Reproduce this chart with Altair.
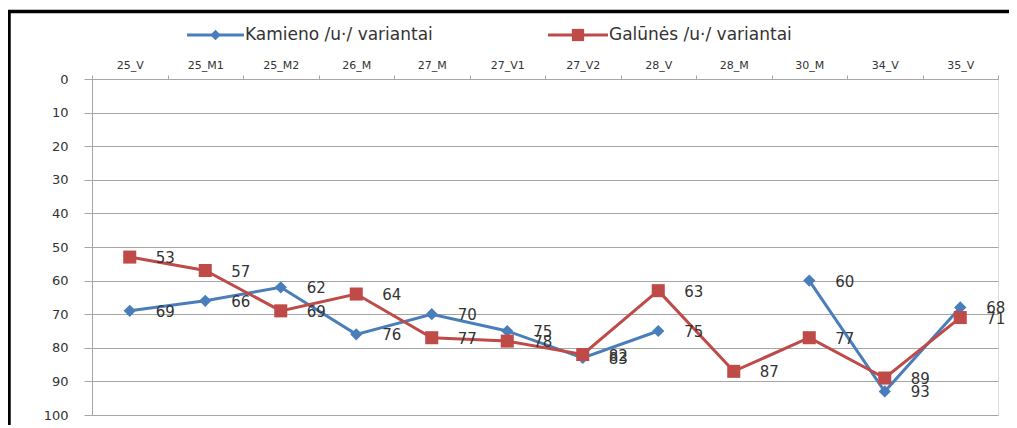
import altair as alt
import pandas as pd

categories = ["25_V", "25_M1", "25_M2", "26_M", "27_M", "27_V1", "27_V2",
              "28_V", "28_M", "30_M", "34_V", "35_V"]
series_names = ["Kamieno /u·/ variantai", "Galūnės /u·/ variantai"]
kamieno = [69, 66, 62, 76, 70, 75, 83, 75, None, 60, 93, 68]
galunes = [53, 57, 69, 64, 77, 78, 82, 63, 87, 77, 89, 71]
y_ticks = [0, 10, 20, 30, 40, 50, 60, 70, 80, 90, 100]

colors = ["#4A7EBB", "#BE4B48"]
shapes = ["diamond", "square"]
sizes = [150, 170]

rows = []
for name, vals in zip(series_names, [kamieno, galunes]):
    for c, v in zip(categories, vals):
        rows.append({"cat": c, "series": name, "value": v})
df = pd.DataFrame(rows)

FONT = "DejaVu Sans"
TEXT_COLOR = "#333333"
GRID = "#A6A6A6"

x_enc = alt.X(
    "cat:N",
    sort=categories,
    bandPosition=0.5,
    scale=alt.Scale(type="band", paddingInner=0, paddingOuter=0),
    axis=alt.Axis(
        orient="top", title=None, labelAngle=0, tickBand="extent",
        tickSize=4, tickColor=GRID, domainColor=GRID, labelPadding=5,
        labelFontSize=11, labelColor=TEXT_COLOR, labelFont=FONT, grid=False,
    ),
)
y_enc = alt.Y(
    "value:Q",
    scale=alt.Scale(domain=[0, 100], reverse=True, nice=False, zero=False),
    axis=alt.Axis(
        values=y_ticks, title=None, grid=True, gridColor=GRID, gridWidth=1,
        domainColor=GRID, tickColor=GRID, tickSize=8, labelPadding=16,
        labelFontSize=13, labelColor=TEXT_COLOR, labelFont=FONT,
    ),
)
color_enc = alt.Color("series:N", scale=alt.Scale(domain=series_names, range=colors), legend=None)

base = alt.Chart(df)

lines = base.mark_line(strokeWidth=3, invalid="break-paths-show-domains").encode(
    x=x_enc, y=y_enc, color=color_enc, detail="series:N"
)
points = base.mark_point(filled=True, opacity=1).encode(
    x=x_enc, y=y_enc, color=color_enc,
    shape=alt.Shape("series:N", scale=alt.Scale(domain=series_names, range=shapes), legend=None),
    size=alt.Size("series:N", scale=alt.Scale(domain=series_names, range=sizes), legend=None),
)
labels = base.transform_filter("isValid(datum.value)").mark_text(
    align="left", baseline="middle", dx=26, dy=1, fontSize=15, font=FONT, color=TEXT_COLOR
).encode(x=x_enc, y=y_enc, text="value:Q")


def legend_item(name, color, shape, size, x0, x1):
    ldf = pd.DataFrame({"name": [name]})
    ly = -44
    rule = alt.Chart(ldf).mark_rule(color=color, strokeWidth=3).encode(
        x=alt.value(x0), x2=alt.value(x1), y=alt.value(ly)
    )
    sym = alt.Chart(ldf).mark_point(filled=True, opacity=1, color=color, shape=shape, size=size).encode(
        x=alt.value((x0 + x1) / 2), y=alt.value(ly)
    )
    txt = alt.Chart(ldf).mark_text(
        align="left", baseline="middle", fontSize=17, font=FONT, color=TEXT_COLOR
    ).encode(x=alt.value(x1 + 1), y=alt.value(ly), text="name:N")
    return [rule, sym, txt]


leg = legend_item(series_names[0], colors[0], shapes[0], 110, 95, 152) + \
      legend_item(series_names[1], colors[1], shapes[1], 150, 456, 516)

border_df = pd.DataFrame({"b": [0]})
border_left = alt.Chart(border_df).mark_rule(color="black", strokeWidth=3.5).encode(
    x=alt.value(-83), y=alt.value(-69), y2=alt.value(360)
)
border_top = alt.Chart(border_df).mark_rule(color="black", strokeWidth=3.5).encode(
    x=alt.value(-85), x2=alt.value(930), y=alt.value(-67.5)
)

chart = alt.layer(lines, points, labels, *leg, border_left, border_top).properties(
    width=906, height=336,
    autosize=alt.AutoSizeParams(type="none"),
    padding={"left": 84, "top": 71, "right": 11, "bottom": 10},
).configure_view(stroke=None).configure(background="white")

chart.save("out.html", embed_options={"renderer": "svg", "actions": False})
